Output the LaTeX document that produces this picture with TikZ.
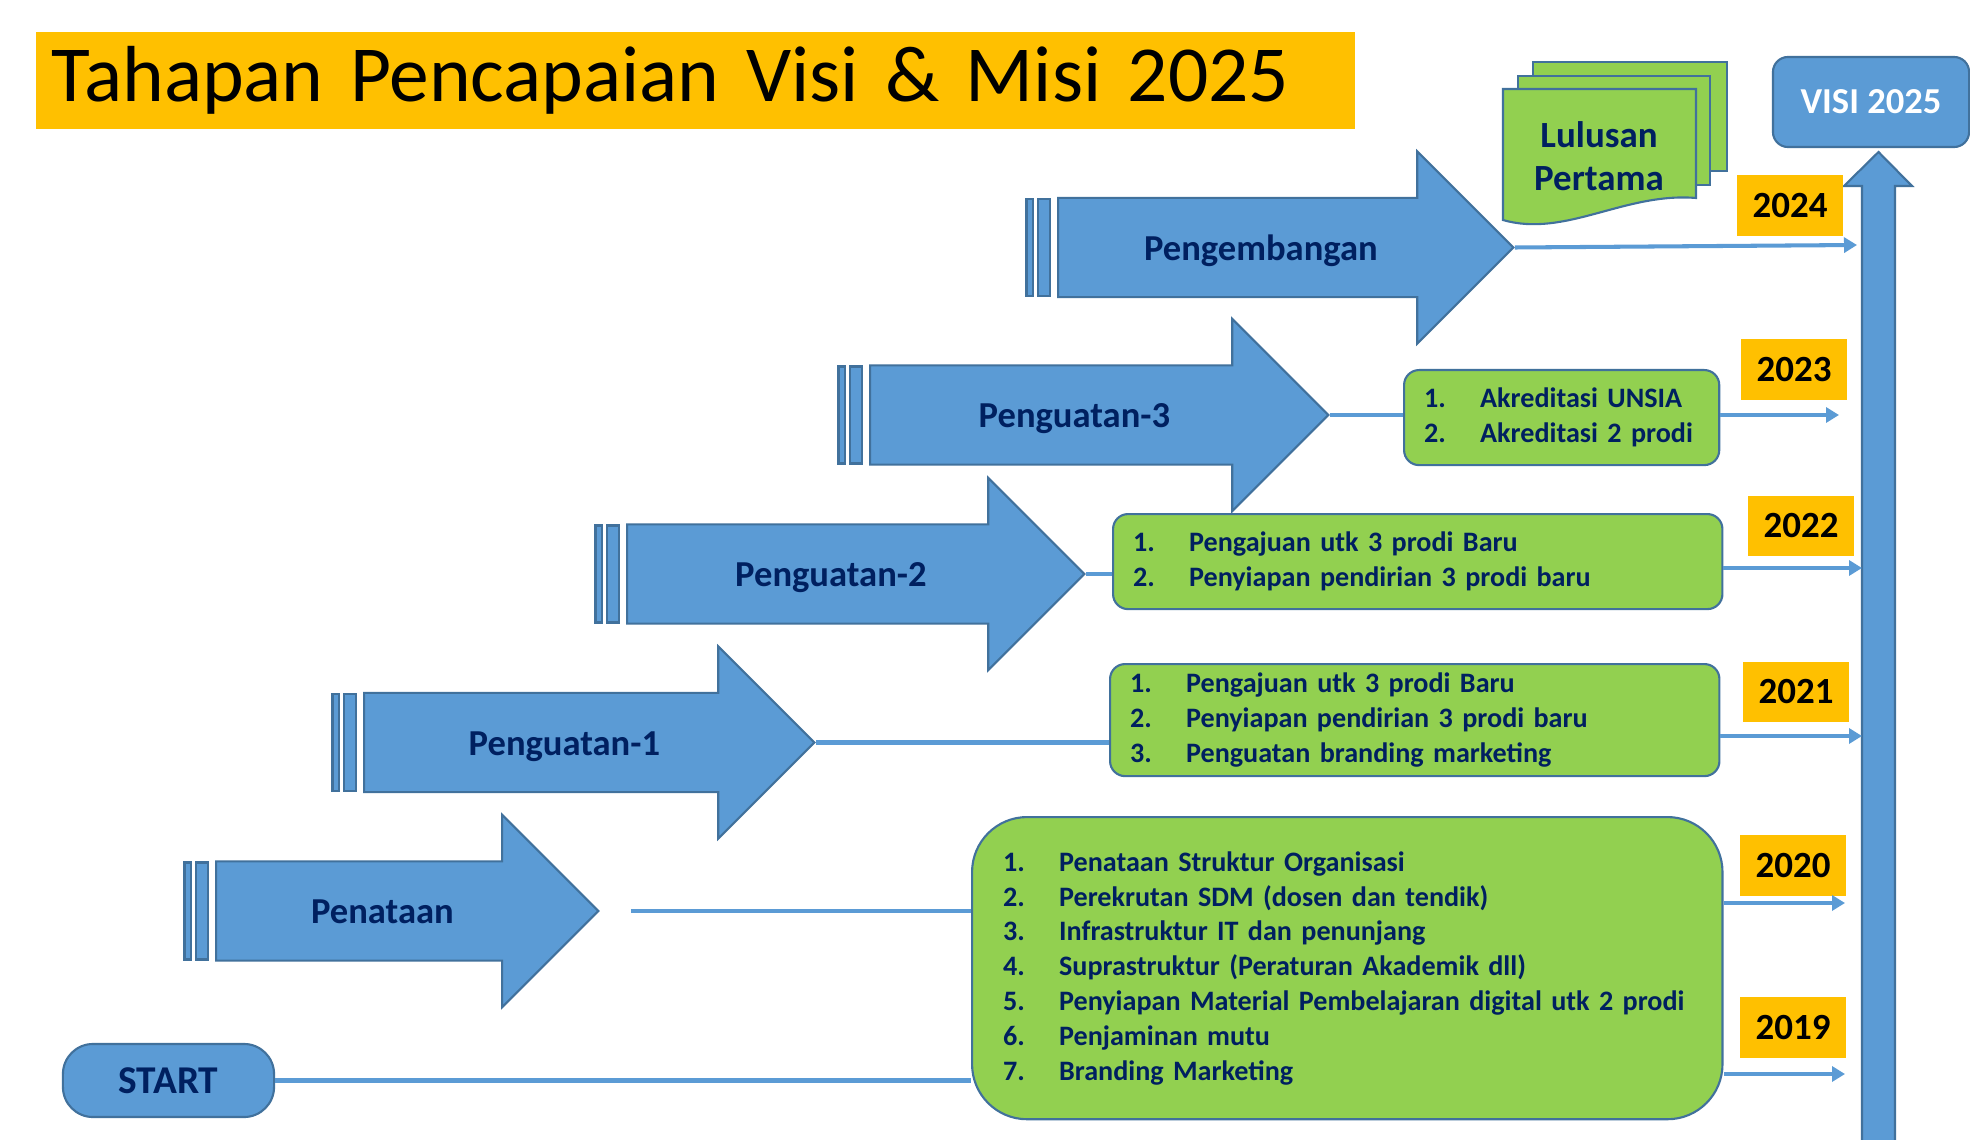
\documentclass[tikz,border=0pt]{standalone}
\usepackage{fontspec}
\setmainfont{Carlito}
\usetikzlibrary{arrows.meta, positioning, shapes.arrows, calc}

\definecolor{barblue}{HTML}{5B9BD5}
\definecolor{edgeblue}{HTML}{41719C}
\definecolor{leafgreen}{HTML}{92D050}
\definecolor{amber}{HTML}{FFC000}
\definecolor{navy}{HTML}{002060}

\newcommand{\goalrow}[2]{\makebox[0.56cm][l]{#1}#2}

\begin{document}
\begin{tikzpicture}[
    x=0.01cm, y=-0.01cm,
    stage/.style={single arrow, draw=edgeblue, line width=0.6pt, fill=barblue,
      single arrow head extend=0.465cm, single arrow tip angle=90,
      inner xsep=0pt, inner ysep=0.2cm, text height=0.41cm, text depth=0.16cm,
      anchor=tail, font=\fontsize{10.4}{12}\selectfont\bfseries, text=navy},
    stagebar/.style={draw=edgeblue, line width=0.6pt, fill=barblue},
    goal/.style={draw=edgeblue, line width=0.6pt, fill=leafgreen, rounded corners=0.15cm,
      align=left, anchor=north west, inner xsep=0.2cm, inner ysep=0pt,
      font=\fontsize{8}{9.9}\selectfont\bfseries, text=navy},
    year/.style={fill=amber, minimum width=1.05cm, minimum height=0.6cm, inner sep=0pt,
      font=\fontsize{10.5}{12}\selectfont\bfseries},
    doc/.style={draw=edgeblue, line width=0.6pt, fill=leafgreen},
    link/.style={barblue, line width=1.15pt},
    toaxis/.style={link, -{Triangle[length=0.13cm, width=0.15cm]}},
  ]
  \useasboundingbox (0,0) rectangle (1970,1140);
  \fill[white] (0,0) rectangle (1970,1140);

  % title
  \node[anchor=north west, fill=amber, minimum height=0.97cm, text width=12.87cm,
    inner xsep=0.16cm, inner ysep=0pt, align=left,
    font=\fontsize{22.6}{27}\selectfont] (title) at (35,31)
    {Tahapan Pencapaian Visi \& Misi 2025};

  % vision axis
  \draw[stagebar] (1862,1150) -- (1862,186) -- (1844,186) -- (1878.5,152)
    -- (1912,186) -- (1895,186) -- (1895,1150) -- cycle;
  \node[draw=edgeblue, line width=0.6pt, fill=barblue, rounded corners=0.15cm,
    minimum width=1.96cm, minimum height=0.9cm, text=white,
    font=\fontsize{10.4}{12}\selectfont\bfseries] (visi) at (1871,102) {VISI 2025};

  % stages
  \node[stage, minimum height=4.55cm] (pgb) at (1057,247.5) {Pengembangan};
  \node[stage, minimum height=4.58cm] (pg3) at (869,415) {Penguatan-3};
  \node[stage, minimum height=4.57cm] (pg2) at (626,574) {Penguatan-2};
  \node[stage, minimum height=4.50cm] (pg1) at (363,742.5) {Penguatan-1};
  \node[stage, minimum height=3.82cm] (pn) at (215,911) {Penataan};
  \foreach \s in {pgb,pg3,pg2,pg1,pn}{
    \draw[stagebar] ([xshift=-0.305cm, yshift=0.485cm]\s.tail) rectangle ([xshift=-0.24cm, yshift=-0.485cm]\s.tail);
    \draw[stagebar] ([xshift=-0.19cm, yshift=0.485cm]\s.tail) rectangle ([xshift=-0.066cm, yshift=-0.485cm]\s.tail);
  }

  \node[draw=edgeblue, line width=0.6pt, fill=barblue, rounded corners=0.3cm,
    minimum width=2.11cm, minimum height=0.73cm, text=navy,
    font=\fontsize{11.2}{13}\selectfont\bfseries] (start) at (168.5,1080.5) {START};

  % graduates
  \filldraw[doc] (1533,62) rectangle (1727,171);
  \filldraw[doc] (1518,76) rectangle (1710,185);
  \filldraw[doc] (1503,89) -- (1696,89) -- (1696,198)
    .. controls (1625,192) and (1565,238) .. (1503,220) -- cycle;
  \node[align=center, text=navy, font=\fontsize{10.5}{12.2}\selectfont\bfseries]
    (grad) at (1599,156) {Lulusan\\Pertama};

  % goals
  \node[goal, text width=2.75cm, minimum height=0.95cm] (acc) at (1403,369)
    {\goalrow{1.}{Akreditasi UNSIA}\\\goalrow{2.}{Akreditasi 2 prodi}};
  \node[goal, text width=5.69cm, minimum height=0.95cm] (b22) at (1112,513)
    {\goalrow{1.}{Pengajuan utk 3 prodi Baru}\\\goalrow{2.}{Penyiapan pendirian 3 prodi baru}};
  \node[goal, text width=5.69cm, minimum height=1.12cm] (b21) at (1109,663)
    {\goalrow{1.}{Pengajuan utk 3 prodi Baru}\\\goalrow{2.}{Penyiapan pendirian 3 prodi baru}\\
     \goalrow{3.}{Penguatan branding marketing}};
  \node[goal, text width=6.88cm, inner xsep=0.31cm, minimum height=3.02cm,
    rounded corners=0.55cm] (big) at (971,816)
    {\goalrow{1.}{Penataan Struktur Organisasi}\\
     \goalrow{2.}{Perekrutan SDM (dosen dan tendik)}\\
     \goalrow{3.}{Infrastruktur IT dan penunjang}\\
     \goalrow{4.}{Suprastruktur (Peraturan Akademik dll)}\\
     \goalrow{5.}{Penyiapan Material Pembelajaran digital utk 2 prodi}\\
     \goalrow{6.}{Penjaminan mutu}\\
     \goalrow{7.}{Branding Marketing}};

  % years
  \node[year] (y24) at (1790,205.5) {2024};
  \node[year] (y23) at (1794,369.5) {2023};
  \node[year] (y22) at (1801,526) {2022};
  \node[year] (y21) at (1796,692) {2021};
  \node[year] (y20) at (1793,865.5) {2020};
  \node[year] (y19) at (1793,1027.5) {2019};

  % links
  \draw[link] (start.east) -- (start.east -| big.west);
  \draw[link] ([xshift=0.31cm]pn.tip) -- (pn.tip -| big.west);
  \draw[link] (pg1.tip) -- (pg1.tip -| b21.west);
  \draw[link] (pg2.tip) -- (pg2.tip -| b22.west);
  \draw[link] (pg3.tip) -- (pg3.tip -| acc.west);

  \coordinate (e24) at (1857,245);
  \coordinate (e23) at (1839,415);
  \coordinate (e22) at (1862,568);
  \coordinate (e21) at (1862,736);
  \coordinate (e20) at (1845,903);
  \coordinate (e19) at (1845,1074);
  \draw[toaxis] (pgb.tip) -- (e24);
  \draw[toaxis] (e23 -| acc.east) -- (e23);
  \draw[toaxis] (e22 -| b22.east) -- (e22);
  \draw[toaxis] (e21 -| b21.east) -- (e21);
  \draw[toaxis] (e20 -| big.east) -- (e20);
  \draw[toaxis] (e19 -| big.east) -- (e19);
\end{tikzpicture}
\end{document}
